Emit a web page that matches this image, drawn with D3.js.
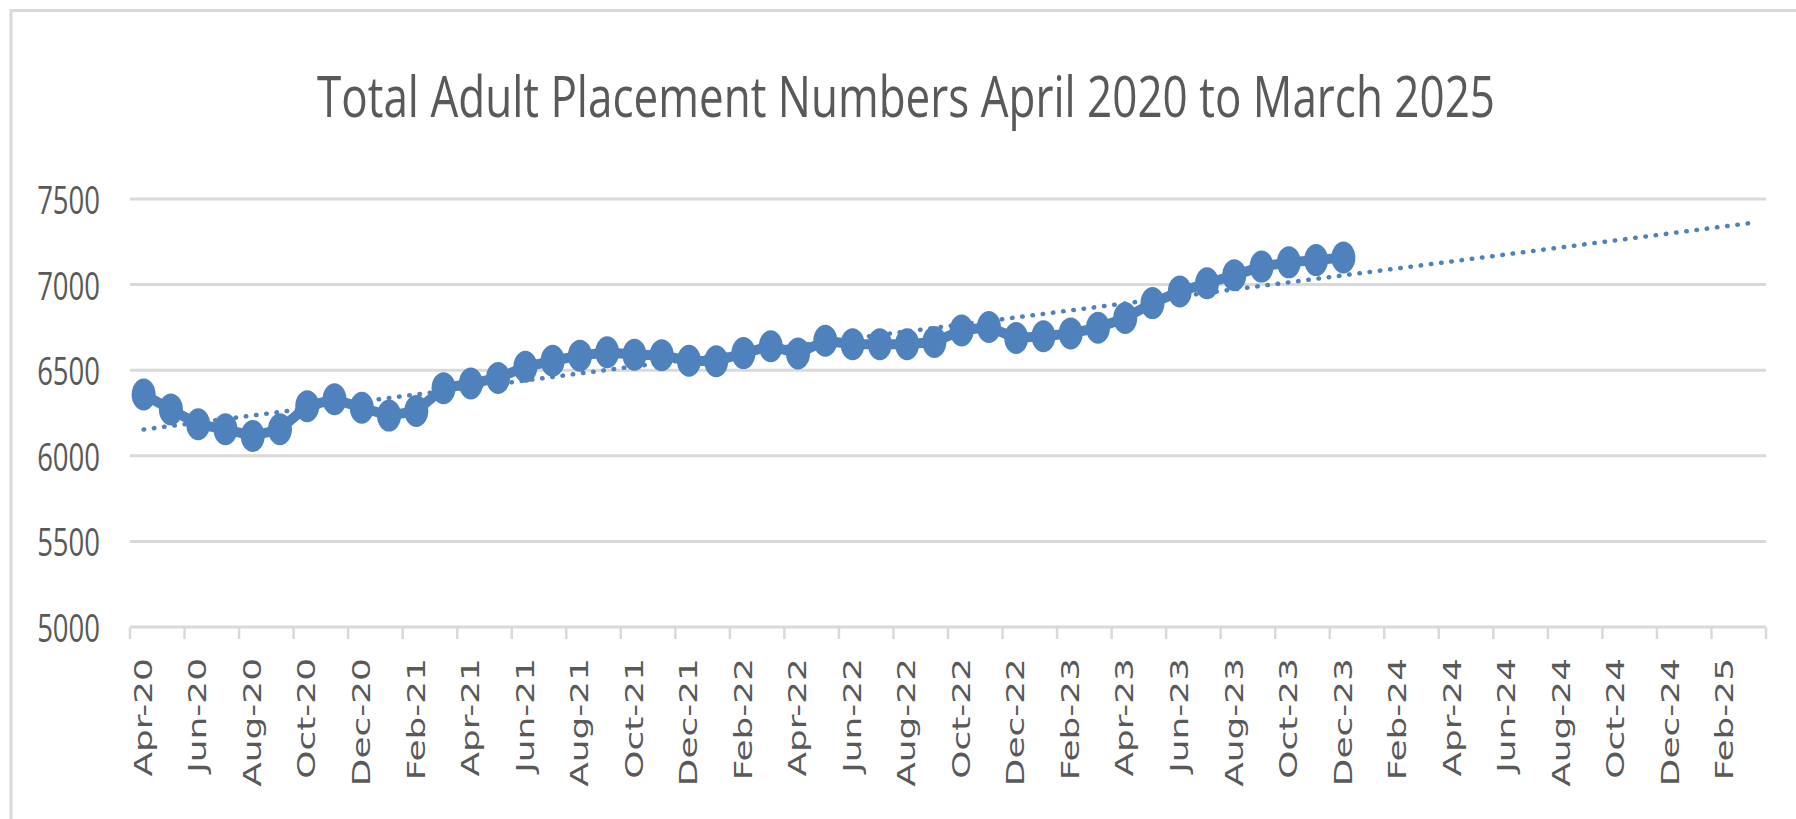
<!DOCTYPE html>
<html>
<head>
<meta charset="utf-8">
<script src="https://cdn.jsdelivr.net/npm/d3@7/dist/d3.min.js"></script>
<style>
  html, body { margin: 0; padding: 0; background: #ffffff; }
  svg { display: block; }
</style>
</head>
<body>
<svg id="chart" width="1796" height="819"></svg>
<script>
const title = "Total Adult Placement Numbers April 2020 to March 2025";

const categories = [
  "Apr-20","May-20","Jun-20","Jul-20","Aug-20","Sep-20","Oct-20","Nov-20","Dec-20",
  "Jan-21","Feb-21","Mar-21","Apr-21","May-21","Jun-21","Jul-21","Aug-21","Sep-21","Oct-21","Nov-21","Dec-21",
  "Jan-22","Feb-22","Mar-22","Apr-22","May-22","Jun-22","Jul-22","Aug-22","Sep-22","Oct-22","Nov-22","Dec-22",
  "Jan-23","Feb-23","Mar-23","Apr-23","May-23","Jun-23","Jul-23","Aug-23","Sep-23","Oct-23","Nov-23","Dec-23",
  "Jan-24","Feb-24","Mar-24","Apr-24","May-24","Jun-24","Jul-24","Aug-24","Sep-24","Oct-24","Nov-24","Dec-24",
  "Jan-25","Feb-25","Mar-25"
];

const placements = [
  6358, 6271, 6184, 6155, 6116, 6155, 6290, 6330, 6281,
  6235, 6262, 6395, 6422, 6455, 6520, 6555, 6585, 6605, 6590, 6588, 6555,
  6552, 6600, 6640, 6598, 6672, 6652, 6652, 6652, 6665, 6732, 6752, 6688,
  6698, 6715, 6748, 6805, 6892, 6960, 7008, 7055, 7105, 7130, 7143, 7158
];

const yTicks = [5000, 5500, 6000, 6500, 7000, 7500];

(function () {
const svg = d3.select("#chart");
const W = 1796, H = 819;
const S = 1.4; // vertical stretch of the reference image
const blue = "#4f81bd";
const grey = "#d9d9d9";
const textCol = "#595959";

const pLeft = 130, pRight = 1766, pTop = 199, pBottom = 627;

// chart border (top & left visible)
svg.append("rect")
  .attr("x", 11).attr("y", 10.5)
  .attr("width", W + 20).attr("height", H + 20)
  .attr("fill", "#fff").attr("stroke", grey).attr("stroke-width", 3);

const x = d3.scaleBand().domain(categories).range([pLeft, pRight]).paddingInner(0).paddingOuter(0);
const y = d3.scaleLinear().domain([5000, 7500]).range([pBottom, pTop]);

// gridlines
svg.append("g").selectAll("line").data(yTicks.filter(d => d !== 5000)).join("line")
  .attr("x1", pLeft).attr("x2", pRight)
  .attr("y1", d => y(d)).attr("y2", d => y(d))
  .attr("stroke", grey).attr("stroke-width", 3);

// y labels
svg.append("g").selectAll("text").data(yTicks).join("text")
  .attr("transform", d => `translate(100,${y(d)}) scale(1,${S})`)
  .attr("text-anchor", "end")
  .attr("dominant-baseline", "central")
  .attr("font-family", "Open Sans, sans-serif")
  .attr("font-size", 27.5)
  .attr("fill", textCol)
  .text(d => d);

// x axis line & ticks
svg.append("line")
  .attr("x1", pLeft).attr("x2", pRight)
  .attr("y1", pBottom).attr("y2", pBottom)
  .attr("stroke", grey).attr("stroke-width", 3);

const tickCats = categories.filter((d, i) => i % 2 === 0);
const tickPos = tickCats.map(c => x(c)).concat([pRight]);
svg.append("g").selectAll("line").data(tickPos).join("line")
  .attr("x1", d => d).attr("x2", d => d)
  .attr("y1", pBottom).attr("y2", pBottom + 12)
  .attr("stroke", grey).attr("stroke-width", 2.5);

// x labels
svg.append("g").selectAll("text").data(tickCats).join("text")
  .attr("transform", d => `translate(${x(d) + x.bandwidth() / 2},658) rotate(-90) scale(${S * 1.07},1)`)
  .attr("text-anchor", "end")
  .attr("dominant-baseline", "central")
  .attr("font-family", "DejaVu Sans, sans-serif")
  .attr("font-size", 24)
  .attr("fill", textCol)
  .text(d => d);

// linear trendline (least squares), extended to the end of the category axis
const n = placements.length;
const idx = d3.range(n);
const mx = d3.mean(idx), my = d3.mean(placements);
const slope = d3.sum(idx, i => (i - mx) * (placements[i] - my)) / d3.sum(idx, i => (i - mx) ** 2);
const intercept = my - slope * mx;
const cx = c => x(c) + x.bandwidth() / 2;
const first = categories[0], last = categories[categories.length - 1];
const trendEnds = [
  { c: first, v: intercept },
  { c: last, v: intercept + slope * (categories.length - 1) }
];
svg.append("path")
  .datum(trendEnds)
  .attr("d", d3.line().x(d => cx(d.c)).y(d => y(d.v)))
  .attr("fill", "none")
  .attr("stroke", blue)
  .attr("stroke-width", 4.5)
  .attr("stroke-linecap", "round")
  .attr("stroke-dasharray", "0.5 9.8");

// data line
const pts = placements.map((v, i) => ({ c: categories[i], v }));
svg.append("path")
  .datum(pts)
  .attr("d", d3.line().x(d => cx(d.c)).y(d => y(d.v)))
  .attr("fill", "none")
  .attr("stroke", blue)
  .attr("stroke-width", 10)
  .attr("stroke-linejoin", "round");

svg.append("g").selectAll("ellipse").data(pts).join("ellipse")
  .attr("cx", d => cx(d.c)).attr("cy", d => y(d.v))
  .attr("rx", 12).attr("ry", 16)
  .attr("fill", blue);

// title
svg.append("text")
  .attr("transform", `translate(906,117) scale(1,${S * 0.95})`)
  .attr("text-anchor", "middle")
  .attr("font-family", "Open Sans, sans-serif")
  .attr("font-size", 42)
  .attr("fill", textCol)
  .attr("textLength", 1178)
  .attr("lengthAdjust", "spacingAndGlyphs")
  .text(title);
})();
</script>
</body>
</html>
